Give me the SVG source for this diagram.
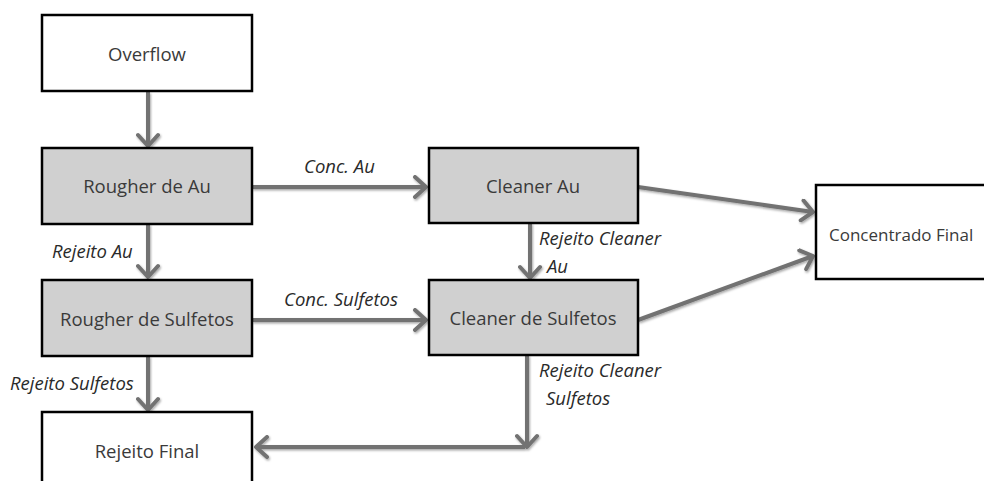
<svg xmlns="http://www.w3.org/2000/svg" width="984" height="481" viewBox="0 0 984 481">
<style>
.box{stroke:#000;stroke-width:2.5}
.w{fill:#fff}
.g{fill:#d0d0d0}
.t{font-family:"Open Sans","Liberation Sans",sans-serif;font-size:18.5px;fill:#3a3a3a;text-anchor:middle}
.l{font-family:"Open Sans","Liberation Sans",sans-serif;font-size:18.5px;font-style:italic;fill:#2a2a2a}
.c{fill:none;stroke:#727272;stroke-width:4;marker-end:url(#ah)}
</style>
<defs>
<marker id="ah" markerUnits="userSpaceOnUse" markerWidth="20" markerHeight="24" refX="14" refY="12" orient="auto" viewBox="0 0 20 24">
<path d="M3,2 L14,12 L3,22" fill="none" stroke="#727272" stroke-width="4" stroke-linecap="round" stroke-linejoin="round"/>
</marker>
<filter id="sh" x="-10%" y="-10%" width="120%" height="120%">
<feDropShadow dx="1" dy="1.5" stdDeviation="1.2" flood-color="#000" flood-opacity="0.35"/>
</filter>
</defs>
<rect width="984" height="481" fill="#fff"/>
<g id="connectors" filter="url(#sh)">
<line class="c" x1="148" y1="92" x2="148" y2="146"/>
<line class="c" x1="252" y1="187" x2="426" y2="187"/>
<line class="c" x1="148" y1="224" x2="148" y2="277"/>
<line class="c" x1="252" y1="320" x2="426" y2="320"/>
<line class="c" x1="530" y1="223" x2="530" y2="278"/>
<line class="c" x1="148" y1="356" x2="148" y2="410"/>
<line class="c" x1="527" y1="355" x2="527" y2="447"/>
<polyline class="c" points="525,447 256,447"/>
<line class="c" x1="638" y1="187" x2="813" y2="212"/>
<line class="c" x1="638" y1="320" x2="813" y2="256"/>
</g>
<g id="n_overflow"><rect class="box w" x="42" y="15" width="210" height="76"/><text class="t" x="147" y="61">Overflow</text></g>
<g id="n_rougher_au"><rect class="box g" x="42" y="148" width="210" height="76"/><text class="t" x="147" y="193">Rougher de Au</text></g>
<g id="n_rougher_sulf"><rect class="box g" x="42" y="280" width="210" height="76"/><text class="t" x="147" y="326">Rougher de Sulfetos</text></g>
<g id="n_rejeito_final"><rect class="box w" x="42" y="412" width="210" height="80"/><text class="t" x="147" y="458">Rejeito Final</text></g>
<g id="n_cleaner_au"><rect class="box g" x="429" y="148" width="209" height="75"/><text class="t" x="533" y="193">Cleaner Au</text></g>
<g id="n_cleaner_sulf"><rect class="box g" x="429" y="280" width="209" height="75"/><text class="t" x="533" y="325">Cleaner de Sulfetos</text></g>
<g id="n_concentrado"><rect class="box w" x="816" y="185" width="180" height="94"/><text class="t" x="829" y="241" style="text-anchor:start;font-size:17px">Concentrado Final</text></g>
<g id="labels">
<text class="l" x="304" y="173">Conc. Au</text>
<text class="l" x="52" y="258">Rejeito Au</text>
<text class="l" x="284" y="306">Conc. Sulfetos</text>
<text class="l" x="539" y="245">Rejeito Cleaner</text>
<text class="l" x="547" y="273">Au</text>
<text class="l" x="10" y="390">Rejeito Sulfetos</text>
<text class="l" x="539" y="377">Rejeito Cleaner</text>
<text class="l" x="546" y="405">Sulfetos</text>
</g>
</svg>
